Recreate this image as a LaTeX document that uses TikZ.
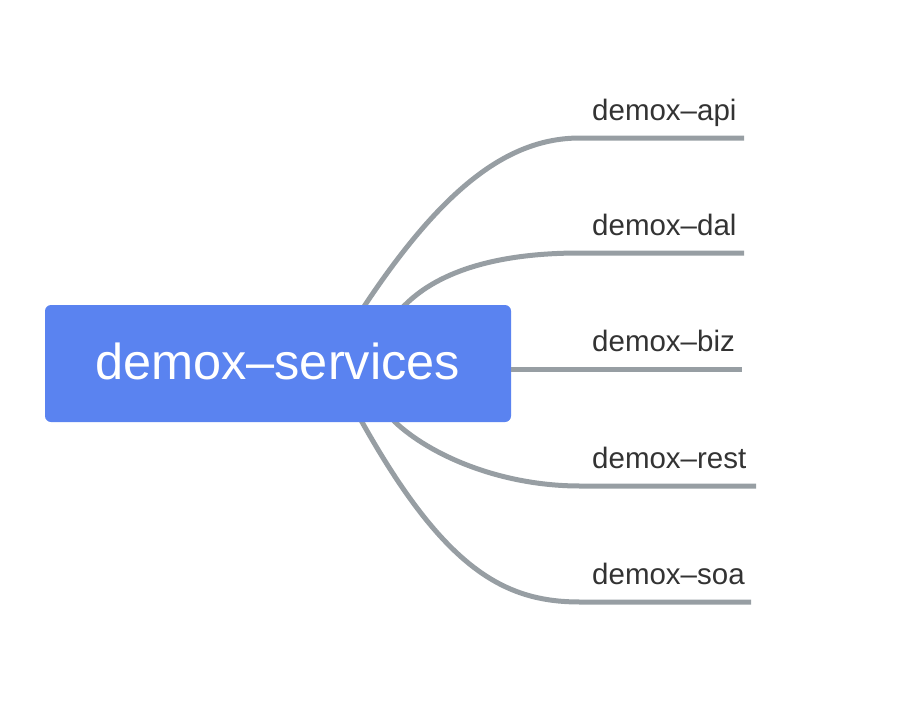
\documentclass[tikz,border=0pt]{standalone}
\usepackage{fontspec}
\setmainfont{Liberation Sans}
\definecolor{boxblue}{RGB}{90,131,240}
\definecolor{linegray}{RGB}{151,158,163}
\definecolor{labelgray}{RGB}{51,51,51}
\tikzset{
  branch/.style={draw=linegray, line width=5pt, line cap=butt},
  leaf/.style={anchor=base west, inner sep=0pt, text=labelgray, font=\fontsize{29.5}{34}\selectfont},
  rootbox/.style={fill=boxblue, rounded corners=6pt, minimum width=466pt, minimum height=117pt, inner sep=0pt}
}
\begin{document}
\begin{tikzpicture}[x=1pt,y=-1pt]
\useasboundingbox (0,0) rectangle (916,712);
% endpoints
\coordinate (apiE) at (744,138);
\coordinate (dalE) at (744,253);
\coordinate (bizE) at (742,369);
\coordinate (restE) at (756,486);
\coordinate (soaE) at (751,602);
% curves drawn behind the box
\draw[branch] (349,329) -- (365,305) .. controls (445,185) and (510,138) .. (580,138) -- (apiE);
\draw[branch] (391,319) -- (405,305) .. controls (440,270) and (500,253) .. (580,253) -- (dalE);
\draw[branch] (383,409) -- (395,422) .. controls (430,455) and (500,486) .. (580,486) -- (restE);
\draw[branch] (350,400) -- (362,422) .. controls (445,570) and (505,602) .. (580,602) -- (soaE);
% root
\node[rootbox] (root) at (278,363.5) {};
\node[anchor=base, inner sep=0pt, text=white, font=\fontsize{50.5}{58}\selectfont] (roottext) at (277.5,379.5) {demox–services};
\draw[branch] (root.east |- bizE) -- (bizE);
% labels
\node[leaf] (api) at (592,120.5) {demox–api};
\node[leaf] (dal) at (592,235.5) {demox–dal};
\node[leaf] (biz) at (592,351.5) {demox–biz};
\node[leaf] (rest) at (592,468.5) {demox–rest};
\node[leaf] (soa) at (592,584.5) {demox–soa};
\end{tikzpicture}
\end{document}
